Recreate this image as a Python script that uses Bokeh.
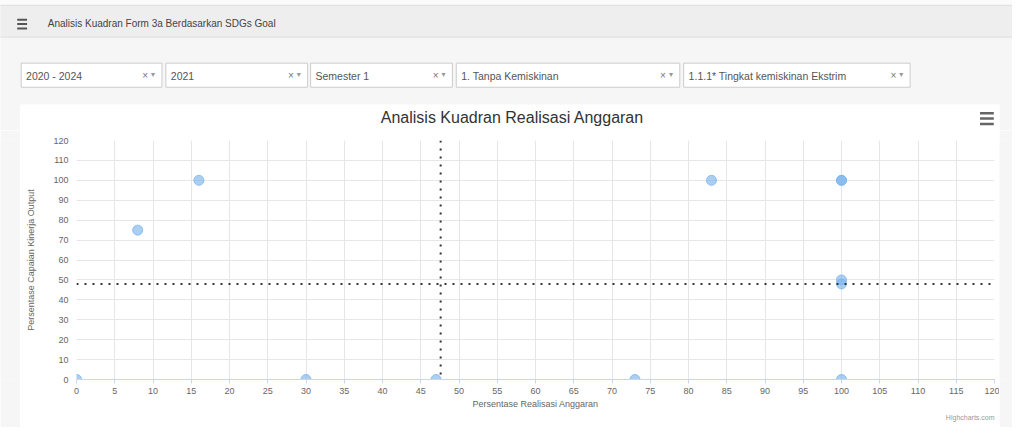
from bokeh.plotting import figure
from bokeh.models import Range1d, ColumnDataSource, Span, FixedTicker, Title
from bokeh.layouts import column, row
from bokeh.embed import file_html
from bokeh.resources import INLINE
from bokeh.core.properties import value

# ---------------- data ----------------
realisasi = [0, 8, 16, 30, 47, 73, 83, 100, 100, 100, 100, 100]
capaian = [0, 75, 100, 0, 0, 0, 100, 100, 100, 50, 48, 0]
batas_realisasi = 47.6
batas_capaian = 48
x_ticks = list(range(0, 121, 5))
y_ticks = list(range(0, 121, 10))

header_title = "Analisis Kuadran Form 3a Berdasarkan SDGs Goal"
filter_labels = ["2020 - 2024", "2021", "Semester 1", "1. Tanpa Kemiskinan",
                 "1.1.1* Tingkat kemiskinan Ekstrim"]
chart_title = "Analisis Kuadran Realisasi Anggaran"
x_title = "Persentase Realisasi Anggaran"
y_title = "Persentase Capaian Kinerja Output"
credits = "Highcharts.com"

FONT = value("Liberation Sans")
PAGE_BG = "#f6f6f6"

W, H = 1012, 427
TOP_H = 130
SY = H / 443.0

# ---------------- top part (page chrome), drawn in reference pixel coords ----------------
top = figure(width=W, height=TOP_H, x_range=Range1d(0, 1028), y_range=Range1d(TOP_H / SY, 0),
             x_axis_type=None, y_axis_type=None, output_backend="svg",
             toolbar_location=None, min_border=0)
top.grid.visible = False
top.outline_line_color = None
top.background_fill_color = PAGE_BG
top.border_fill_color = PAGE_BG

top.quad(left=[-5], right=[1035], top=[-5], bottom=[5], fill_color="#fbfbfb", line_color=None)
# header strip
top.quad(left=[-5], right=[1035], top=[5], bottom=[38], fill_color="#eeeeee",
         line_color="#dedede", line_width=1)
top.segment(x0=[17, 17, 17], x1=[27, 27, 27], y0=[20, 24.5, 29], y1=[20, 24.5, 29],
            line_color="#555555", line_width=2)
top.text(x=[48], y=[24], text=[header_title], text_font=FONT, text_font_size="10px",
         text_color="#444444", text_baseline="middle", text_align="left")

# filter boxes
box_l = [21, 168, 315, 463, 694]
box_r = [164, 312, 459, 690, 924]
top.quad(left=box_l, right=box_r, top=[65] * 5, bottom=[90] * 5,
         fill_color="white", line_color="#cccccc", line_width=1)
top.text(x=[l + 5 for l in box_l], y=[78] * 5, text=filter_labels, text_font=FONT,
         text_font_size="10.5px", text_color="#555555", text_baseline="middle",
         text_align="left")
top.text(x=[r - 17 for r in box_r], y=[78] * 5, text=["×"] * 5, text_font=FONT,
         text_font_size="10px", text_color="#777777", text_baseline="middle",
         text_align="center")
top.text(x=[r - 9 for r in box_r], y=[77] * 5, text=["▾"] * 5, text_font=value("DejaVu Sans"),
         text_font_size="8px", text_color="#999999", text_baseline="middle",
         text_align="center")

# chart panel top
top.quad(left=[20], right=[1015], top=[108], bottom=[160], fill_color="white",
         line_color=None)
top.text(x=[520], y=[121], text=[chart_title], text_font=FONT, text_font_size="16px",
         text_color="#333333", text_baseline="middle", text_align="center")
top.segment(x0=[995, 995, 995], x1=[1009, 1009, 1009], y0=[117, 122.5, 128],
            y1=[117, 122.5, 128], line_color="#666666", line_width=2.5)

# ---------------- chart ----------------
BOT_H = H - TOP_H


def spacer(w):
    s = figure(width=w, height=BOT_H, x_range=Range1d(0, 1), y_range=Range1d(0, 1),
               x_axis_type=None, y_axis_type=None, output_backend="svg",
               toolbar_location=None, min_border=0)
    s.grid.visible = False
    s.outline_line_color = None
    s.background_fill_color = PAGE_BG
    s.border_fill_color = PAGE_BG
    return s


p = figure(width=979, height=BOT_H, x_range=Range1d(0, 120), y_range=Range1d(0, 120),
           output_backend="svg", toolbar_location=None,
           min_border_left=56, min_border_right=5, min_border_top=10, min_border_bottom=48)
p.outline_line_color = None
p.background_fill_color = "white"
p.border_fill_color = "white"

src = ColumnDataSource(dict(x=realisasi, y=capaian))
p.scatter("x", "y", source=src, size=10, fill_color="#7cb5ec", fill_alpha=0.65,
          line_color="#7cb5ec", line_alpha=0.8)

p.add_layout(Span(location=batas_realisasi, dimension="height", line_color="#333333",
                  line_width=2, line_dash="2 6"))
p.add_layout(Span(location=batas_capaian, dimension="width", line_color="#333333",
                  line_width=2, line_dash="2 6"))

p.xaxis.ticker = FixedTicker(ticks=x_ticks)
p.yaxis.ticker = FixedTicker(ticks=y_ticks)
p.xgrid.ticker = FixedTicker(ticks=x_ticks)
p.ygrid.ticker = FixedTicker(ticks=y_ticks)
p.grid.grid_line_color = "#e6e6e6"
p.grid.grid_line_width = 1

for ax in (p.xaxis, p.yaxis):
    ax.major_label_text_font = "Liberation Sans"
    ax.major_label_text_font_size = "9px"
    ax.major_label_text_color = "#666666"
    ax.axis_label_text_font = "Liberation Sans"
    ax.axis_label_text_font_size = "9px"
    ax.axis_label_text_color = "#666666"
    ax.axis_label_text_font_style = "normal"
    ax.minor_tick_line_color = None

p.xaxis.axis_label = x_title
p.xaxis.axis_line_color = "#ccd6eb"
p.xaxis.major_tick_line_color = "#ccd6eb"
p.xaxis.major_tick_out = 4
p.xaxis.major_tick_in = 0
p.xaxis.major_label_standoff = 4
p.xaxis.axis_label_standoff = 2

p.yaxis.axis_label = y_title
p.yaxis.axis_line_color = None
p.yaxis.major_tick_line_color = None
p.yaxis.major_tick_out = 0
p.yaxis.major_tick_in = 0
p.yaxis.major_label_standoff = 8
p.yaxis.axis_label_standoff = 14

p.add_layout(Title(text=credits, align="right", text_font="Liberation Sans",
                   text_font_size="7px", text_color="#999999", text_font_style="normal",
                   standoff=0, offset=0), "below")

layout = column(top, row(spacer(20), p, spacer(W - 20 - 979), spacing=0), spacing=0)

open("out.html", "w").write(file_html(layout, INLINE))
